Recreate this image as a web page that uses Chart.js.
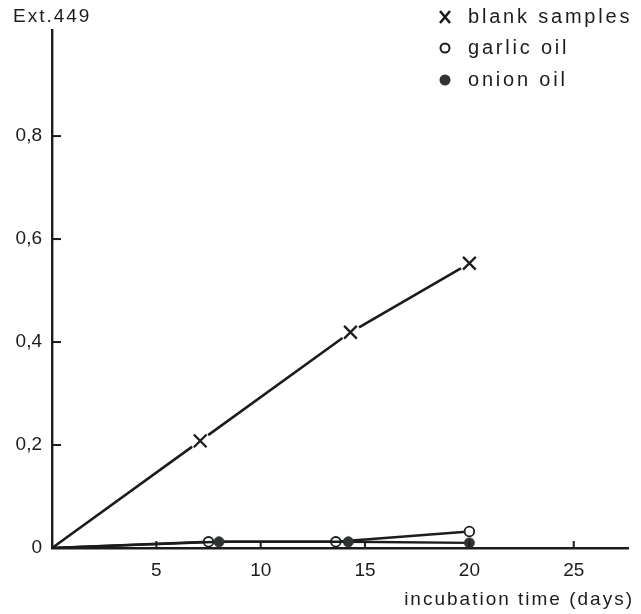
<!DOCTYPE html>
<html>
<head>
<meta charset="utf-8">
<script src="https://cdn.jsdelivr.net/npm/chart.js@4/dist/chart.umd.min.js"></script>
<style>
  html, body { margin: 0; padding: 0; background: #fff; }
  #wrap { width: 641px; height: 614px; position: relative; }
</style>
</head>
<body>
<div id="wrap"><canvas id="c" width="641" height="614"></canvas></div>
<script>
// Extinction at 449 nm over incubation time
const blankDays  = [0, 7.1, 14.3, 20];
const blankExt   = [0, 0.208, 0.419, 0.553];
const garlicDays = [0, 7.5, 13.6, 20];
const garlicExt  = [0, 0.012, 0.012, 0.032];
const onionDays  = [0, 8.0, 14.2, 20];
const onionExt   = [0, 0.012, 0.012, 0.010];

const xTicks = [5, 10, 15, 20, 25];
const yTicks = [0, 0.2, 0.4, 0.6, 0.8];

const seriesNames = ['blank samples', 'garlic oil', 'onion oil'];
const yTitle = 'Ext.449';
const xTitle = 'incubation time (days)';

const ink = '#1c1c1c';
const onionFill = '#2c352f';
const fontFamily = '"Liberation Sans", "DejaVu Sans", sans-serif';

const pts = (xs, ys) => xs.map((x, i) => ({ x, y: ys[i] }));

// tick marks pointing into the plot area, plus free text
const decor = {
  id: 'decor',
  afterDraw(chart) {
    const ctx = chart.ctx;
    const xs = chart.scales.x, ys = chart.scales.y;
    const x0 = xs.getPixelForValue(0), y0 = ys.getPixelForValue(0);
    ctx.save();
    ctx.strokeStyle = ink;
    ctx.lineWidth = 2;
    yTicks.forEach(v => {
      if (v === 0) return;
      const py = ys.getPixelForValue(v);
      ctx.beginPath(); ctx.moveTo(x0, py); ctx.lineTo(x0 + 9, py); ctx.stroke();
    });
    xTicks.forEach(v => {
      const px = xs.getPixelForValue(v);
      ctx.beginPath(); ctx.moveTo(px, y0); ctx.lineTo(px, y0 - 7); ctx.stroke();
    });

    ctx.fillStyle = ink;
    ctx.font = '19px ' + fontFamily;
    ctx.textBaseline = 'middle';
    ctx.letterSpacing = '2px';
    ctx.textAlign = 'left';
    ctx.fillText(yTitle, 13, 17);
    ctx.textAlign = 'right';
    ctx.fillText(xTitle, 634, 600);

    // legend
    ctx.textAlign = 'left';
    ctx.font = '20px ' + fontFamily;
    ctx.letterSpacing = '2.8px';
    const lx = 445, ly = [17, 48, 80];
    seriesNames.forEach((name, i) => ctx.fillText(name, 468, ly[i]));
    ctx.lineWidth = 2.6;
    ctx.beginPath();
    ctx.moveTo(lx - 5, ly[0] - 6); ctx.lineTo(lx + 5, ly[0] + 6);
    ctx.moveTo(lx + 5, ly[0] - 6); ctx.lineTo(lx - 5, ly[0] + 6);
    ctx.stroke();
    ctx.lineWidth = 2;
    ctx.beginPath(); ctx.arc(lx, ly[1], 4.5, 0, Math.PI * 2);
    ctx.fillStyle = '#fff'; ctx.fill(); ctx.stroke();
    ctx.beginPath(); ctx.arc(lx, ly[2], 5.5, 0, Math.PI * 2);
    ctx.fillStyle = onionFill; ctx.fill();
    ctx.restore();
  }
};

const hideAtOrigin = r => (ctx) => (ctx.raw && ctx.raw.x === 0 ? 0 : r);

new Chart(document.getElementById('c'), {
  type: 'scatter',
  data: {
    datasets: [
      { // blank samples: line
        label: seriesNames[0], data: pts(blankDays, blankExt), showLine: true,
        borderColor: ink, borderWidth: 2.6, pointRadius: 0, order: 6
      },
      { // small clearing around each cross
        label: '', data: pts(blankDays, blankExt), showLine: false,
        pointRadius: hideAtOrigin(10), pointBackgroundColor: '#fff',
        pointBorderWidth: 0, pointBorderColor: '#fff', order: 5
      },
      { // blank samples: crosses
        label: '', data: pts(blankDays, blankExt), showLine: false,
        pointStyle: 'crossRot', pointRadius: hideAtOrigin(9),
        pointBorderColor: ink, pointBorderWidth: 2.3, order: 4
      },
      {
        label: seriesNames[1], data: pts(garlicDays, garlicExt), showLine: true,
        borderColor: ink, borderWidth: 2.4,
        pointRadius: hideAtOrigin(4.8), pointBackgroundColor: '#fff',
        pointBorderColor: ink, pointBorderWidth: 1.8, order: 3
      },
      {
        label: seriesNames[2], data: pts(onionDays, onionExt), showLine: true,
        borderColor: ink, borderWidth: 2.4,
        pointRadius: hideAtOrigin(5.2), pointBackgroundColor: onionFill,
        pointBorderColor: onionFill, pointBorderWidth: 0.5, order: 2
      }
    ]
  },
  options: {
    responsive: false,
    animation: false,
    events: [],
    layout: { padding: { top: 30, right: 13, left: 0, bottom: 0 } },
    plugins: { legend: { display: false }, tooltip: { enabled: false } },
    scales: {
      x: {
        type: 'linear', min: 0, max: 27.6,
        grid: { display: false },
        border: { display: true, color: ink, width: 2.4 },
        afterBuildTicks: s => { s.ticks = xTicks.map(v => ({ value: v })); },
        afterFit: s => { s.height = 66; },
        ticks: {
          color: ink, padding: 3,
          font: { size: 19, family: fontFamily },
          callback: v => String(v)
        }
      },
      y: {
        type: 'linear', min: 0, max: 1.006,
        grid: { display: false },
        border: { display: true, color: ink, width: 2.4 },
        afterBuildTicks: s => { s.ticks = yTicks.map(v => ({ value: v })); },
        afterFit: s => { s.width = 52; },
        ticks: {
          color: ink, padding: 2,
          font: { size: 19, family: fontFamily },
          callback: v => (v === 0 ? '0' : v.toFixed(1).replace('.', ','))
        }
      }
    }
  },
  plugins: [decor]
});
</script>
</body>
</html>
